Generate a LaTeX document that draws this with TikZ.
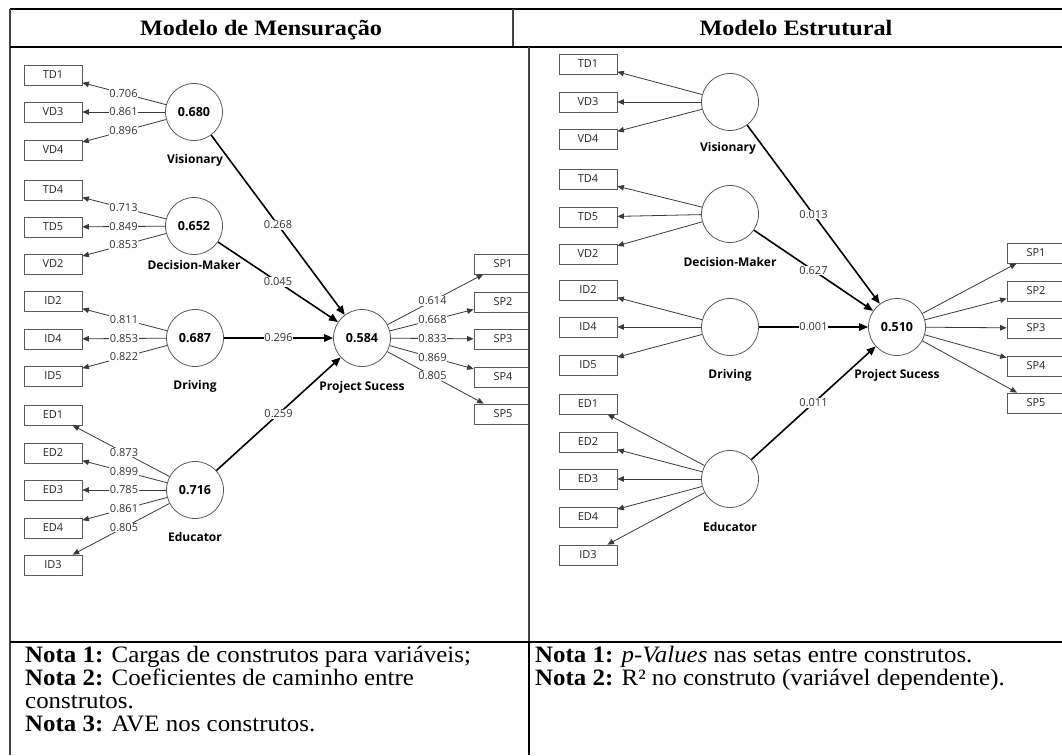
\documentclass[tikz,border=0pt]{standalone}
\usepackage{fontspec}
\setmainfont{Liberation Serif}
\newfontfamily\dg{Open Sans}
\newfontfamily\hdrfont[FakeStretch=1.1]{Liberation Serif}
\newfontfamily\notefont[FakeStretch=1.06]{Liberation Serif}
\usetikzlibrary{arrows.meta,calc}
\definecolor{ibd}{HTML}{5A5A5A}
\definecolor{lnc}{HTML}{3A3A3A}
\definecolor{tbl}{HTML}{444444}
\tikzset{
 ind/.style={draw=ibd, line width=0.8pt, minimum width=58pt, minimum height=20pt, inner sep=0pt, font=\dg\fontsize{11}{12}\selectfont, text=black!85},
 lv/.style={circle, draw=ibd, line width=0.8pt, minimum size=57pt, inner sep=0pt, font=\dg\bfseries\fontsize{12.5}{14}\selectfont},
 lvcap/.style={font=\dg\bfseries\fontsize{12}{13}\selectfont, inner sep=0pt},
 ld/.style={draw=lnc, line width=0.8pt, -{Triangle[length=6.5pt,width=5.5pt]}},
 pth/.style={draw=black, line width=1.6pt, -{Triangle[length=9pt,width=7.5pt]}},
 lbl/.style={fill=white, inner sep=0.8pt, font=\dg\fontsize{11}{12}\selectfont, text=black!80},
 hdr/.style={font=\hdrfont\bfseries\fontsize{22}{24}\selectfont, inner sep=0pt, anchor=base},
 note/.style={font=\notefont\fontsize{23.5}{26}\selectfont, inner sep=0pt, anchor=base west},
}
\begin{document}
\begin{tikzpicture}[x=1pt,y=-1pt]
\useasboundingbox[fill=white] (0,0) rectangle (1062,755);
% ---------- table ----------
\draw[black, line width=1.2pt] (10,9) -- (1062,9);
\draw[tbl, line width=1.2pt] (10,9) -- (10,755);
\draw[tbl, line width=1.2pt] (513,9) -- (513,47);
\node[hdr] (h1) at (261,35) {Modelo de Mensuração};
\node[hdr] (h2) at (796,35) {Modelo Estrutural};
% ---------- left panel ----------
\begin{scope}
\clip (10,47) rectangle (529,642);
\foreach \n/\y in {TD1/75, VD3/112, VD4/150, TD4/190, TD5/227, VD2/264, ID2/301, ID4/339, ID5/376, ED1/415, ED2/453, ED3/490, ED4/528, ID3/565}
  \node[ind] (a\n) at (53,\y) {\n};
\foreach \n/\y in {SP1/264, SP2/302, SP3/339, SP4/377, SP5/414}
  \node[ind] (a\n) at (503,\y) {\n};
\node[lv] (aV) at (194,112) {0.680};
\node[lv] (aD) at (194,226) {0.652};
\node[lv] (aR) at (195,338) {0.687};
\node[lv] (aE) at (195,490) {0.716};
\node[lv] (aP) at (362,338) {0.584};
\node[lvcap] (aVl) at (195,160) {Visionary};
\node[lvcap] (aDl) at (194,265) {Decision-Maker};
\node[lvcap] (aRl) at (195,386) {Driving};
\node[lvcap] (aEl) at (195,537) {Educator};
\node[lvcap] (aPl) at (362,387) {Project Sucess};
\foreach \c/\i/\v in {aV/aTD1/0.706, aV/aVD3/0.861, aV/aVD4/0.896,
  aD/aTD4/0.713, aD/aTD5/0.849, aD/aVD2/0.853,
  aR/aID2/0.811, aR/aID4/0.853, aR/aID5/0.822,
  aE/aED1/0.873, aE/aED2/0.899, aE/aED3/0.785, aE/aED4/0.861, aE/aID3/0.805,
  aP/aSP1/0.614, aP/aSP2/0.668, aP/aSP3/0.833, aP/aSP4/0.869, aP/aSP5/0.805}
{
  \draw[ld] (\c) -- (\i);
  \node[lbl] at ($(\c)!0.5!(\i)$) {\v};
}
\foreach \c/\v in {aV/0.268, aD/0.045, aR/0.296, aE/0.259}
{
  \draw[pth] (\c) -- (aP);
  \node[lbl] at ($(\c)!0.5!(aP)$) {\v};
}
\end{scope}
% ---------- right panel ----------
\foreach \n/\y in {TD1/64, VD3/102, VD4/139, TD4/179, TD5/217, VD2/254, ID2/290, ID4/327, ID5/365, ED1/404, ED2/442, ED3/479, ED4/517, ID3/555}
  \node[ind] (b\n) at (588,\y) {\n};
\foreach \n/\y in {SP1/253, SP2/291, SP3/328, SP4/366, SP5/403}
  \node[ind] (b\n) at (1036,\y) {\n};
\node[lv] (bV) at (730,102) {};
\node[lv] (bD) at (730,214) {};
\node[lv] (bR) at (730,327) {};
\node[lv] (bE) at (730,479) {};
\node[lv] (bP) at (897,327) {0.510};
\node[lvcap] (bVl) at (728,148) {Visionary};
\node[lvcap] (bDl) at (730,262) {Decision-Maker};
\node[lvcap] (bRl) at (730,375) {Driving};
\node[lvcap] (bEl) at (730,527) {Educator};
\node[lvcap] (bPl) at (897,375) {Project Sucess};
\foreach \c/\i in {bV/bTD1, bV/bVD3, bV/bVD4, bD/bTD4, bD/bTD5, bD/bVD2,
  bR/bID2, bR/bID4, bR/bID5, bE/bED1, bE/bED2, bE/bED3, bE/bED4, bE/bID3,
  bP/bSP1, bP/bSP2, bP/bSP3, bP/bSP4, bP/bSP5}
  \draw[ld] (\c) -- (\i);
\foreach \c/\v in {bV/0.013, bD/0.627, bR/0.001, bE/0.011}
{
  \draw[pth] (\c) -- (bP);
  \node[lbl] at ($(\c)!0.5!(bP)$) {\v};
}
% ---------- table lines over panels ----------
\draw[black, line width=2pt] (10,47) -- (1062,47);
\draw[tbl, line width=1.4pt] (529,47) -- (529,642);
\draw[black, line width=2pt] (10,642) -- (1062,642);
\draw[black, line width=1.8pt] (529,642) -- (529,755);
% ---------- notes ----------
\node[note] (n1) at (25,662) {\textbf{Nota 1:} Cargas de construtos para variáveis;};
\node[note] (n2) at (25,685) {\textbf{Nota 2:} Coeficientes de caminho entre};
\node[note] (n3) at (25,708) {construtos.};
\node[note] (n4) at (25,731) {\textbf{Nota 3:} AVE nos construtos.};
\node[note] (m1) at (535,662) {\textbf{Nota 1:} \textit{p-Values} nas setas entre construtos.};
\node[note] (m2) at (535,685) {\textbf{Nota 2:} R² no construto (variável dependente).};
\end{tikzpicture}
\end{document}
